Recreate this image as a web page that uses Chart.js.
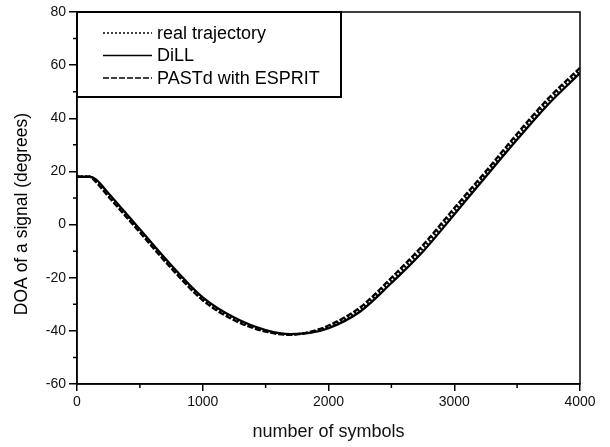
<!DOCTYPE html>
<html>
<head>
<meta charset="utf-8">
<script src="https://cdn.jsdelivr.net/npm/chart.js@4/dist/chart.umd.min.js"></script>
<style>
  html, body { margin: 0; padding: 0; background: #fff; }
  #wrap { width: 610px; height: 447px; }
</style>
</head>
<body>
<div id="wrap"><canvas id="doaChart"></canvas></div>
<script>
// number of symbols (x) and DOA in degrees for each trace
const symbols = [0, 100, 150, 250, 500, 750, 1000, 1250, 1500, 1700, 1850, 2000, 2250, 2500, 2750, 3000, 3250, 3500, 3750, 4000];
const realTrajectory = [18, 18, 16.5, 11, -2.5, -16, -28, -35.5, -40, -41.3, -40.6, -38.5, -32, -21, -9, 5, 19, 33, 46.5, 58];
const dill = [18, 18, 17, 11.8, -1.8, -15.3, -27.4, -35, -39.7, -41.2, -40.8, -39, -32.8, -22, -10.2, 3.8, 18, 32, 45.4, 57];
const pastd = [18, 18, 16, 10.5, -3, -16.5, -28.5, -36, -40.3, -41.5, -40.4, -38, -31.2, -20, -7.8, 6.2, 20, 34.2, 47.6, 59];

const seriesLabels = ['real trajectory', 'DiLL', 'PASTd with ESPRIT'];
const yMinorTicks = [-50, -30, -10, 10, 30, 50, 70];
const xMinorTicks = [500, 1500, 2500, 3500];

const FONT = '"Liberation Sans", Arial, sans-serif';

function toPoints(vals) {
    return symbols.map((s, i) => ({ x: s, y: vals[i] }));
}

const frame = {
    id: 'frame',
    afterDraw(chart) {
        const ctx = chart.ctx;
        const a = chart.chartArea;
        const xs = chart.scales.x, ys = chart.scales.y;
        ctx.save();
        ctx.strokeStyle = '#000';
        ctx.lineWidth = 1.5;
        ctx.strokeRect(a.left, a.top, a.right - a.left, a.bottom - a.top);

        // minor ticks
        ctx.beginPath();
        yMinorTicks.forEach(v => {
            const p = ys.getPixelForValue(v);
            ctx.moveTo(a.left - 4, p);
            ctx.lineTo(a.left, p);
        });
        xMinorTicks.forEach(v => {
            const p = xs.getPixelForValue(v);
            ctx.moveTo(p, a.bottom);
            ctx.lineTo(p, a.bottom + 4);
        });
        ctx.stroke();

        // legend box
        ctx.fillStyle = '#fff';
        ctx.fillRect(a.left, a.top, 264, 85);
        ctx.lineWidth = 2;
        ctx.strokeRect(a.left, a.top, 264, 85);
        ctx.font = '18px ' + FONT;
        ctx.textBaseline = 'middle';
        ctx.fillStyle = '#000';
        chart.data.datasets.forEach((ds, i) => {
            const y = a.top + 21 + i * 22.5;
            ctx.beginPath();
            ctx.lineWidth = 1.5;
            ctx.setLineDash(ds.borderDash || []);
            ctx.moveTo(a.left + 26, y);
            ctx.lineTo(a.left + 75, y);
            ctx.stroke();
            ctx.setLineDash([]);
            ctx.fillText(ds.label, a.left + 80, y + 1);
        });

        // y axis title
        ctx.font = '17.5px ' + FONT;
        ctx.translate(22, 214);
        ctx.rotate(-Math.PI / 2);
        ctx.textAlign = 'center';
        ctx.fillText('DOA of a signal (degrees)', 0, 0);
        ctx.restore();
    }
};

const ctx = document.getElementById('doaChart').getContext('2d');
const doaChart = new Chart(ctx, {
    type: 'line',
    data: {
        datasets: [{
            label: seriesLabels[0],
            data: toPoints(realTrajectory),
            borderColor: '#000',
            borderWidth: 2.3,
            borderDash: [2, 2]
        }, {
            label: seriesLabels[1],
            data: toPoints(dill),
            borderColor: '#000',
            borderWidth: 2.3
        }, {
            label: seriesLabels[2],
            data: toPoints(pastd),
            borderColor: '#000',
            borderWidth: 2.3,
            borderDash: [6, 2]
        }]
    },
    options: {
        responsive: true,
        maintainAspectRatio: false,
        animation: false,
        elements: {
            point: { radius: 0 },
            line: { cubicInterpolationMode: 'monotone' }
        },
        layout: { padding: { left: 0, top: 12, right: 30, bottom: 0 } },
        plugins: {
            legend: { display: false },
            tooltip: { enabled: false }
        },
        scales: {
            x: {
                type: 'linear',
                min: 0,
                max: 4000,
                afterFit: s => { s.height = 63; },
                border: { color: '#000', width: 1.5 },
                grid: { drawOnChartArea: false, tickLength: 7, color: '#000', lineWidth: 1.5 },
                ticks: {
                    stepSize: 1000,
                    padding: 3,
                    color: '#111',
                    font: { family: FONT, size: 14 },
                    maxRotation: 0,
                    callback: v => String(v)
                },
                title: {
                    display: true,
                    text: 'number of symbols',
                    color: '#111',
                    font: { family: FONT, size: 18 },
                    padding: { top: 0, bottom: 4 }
                }
            },
            y: {
                min: -60,
                max: 80,
                afterFit: s => { s.width = 77; },
                border: { color: '#000', width: 1.5 },
                grid: { drawOnChartArea: false, tickLength: 8, color: '#000', lineWidth: 1.5 },
                ticks: {
                    stepSize: 20,
                    padding: 3,
                    color: '#111',
                    font: { family: FONT, size: 14 }
                }
            }
        }
    },
    plugins: [frame]
});
</script>
</body>
</html>
